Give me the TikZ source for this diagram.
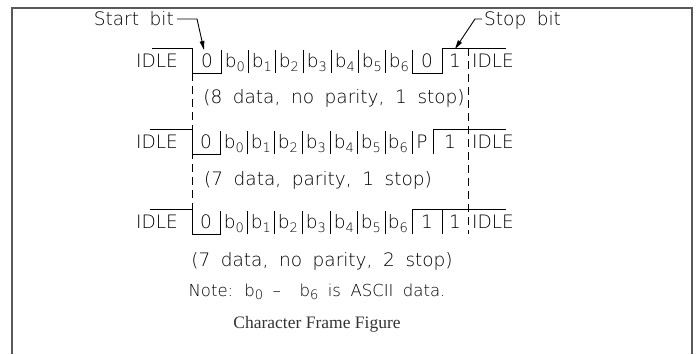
\documentclass[tikz,border=0pt]{standalone}
\usepackage{fontspec}
\setmainfont{DejaVu Sans ExtraLight}[WordSpace=1.8]
\newfontfamily\capfont{Liberation Serif}
\usetikzlibrary{arrows.meta,positioning}
\newcommand{\bsub}[1]{b\raisebox{-0.22em}{\fontsize{13}{13}\selectfont #1}}

\begin{document}
\begin{tikzpicture}[x=1pt, y=-1pt,
		lbl/.style={inner sep=0pt, anchor=base, font=\fontsize{18.5}{18.5}\selectfont},
		note/.style={inner sep=0pt, anchor=base, font=\fontsize{16.5}{16.5}\selectfont},
		wave/.style={line width=0.9pt, line join=miter},
		guide/.style={line width=0.8pt, dash pattern=on 8pt off 5pt},
		pointer/.style={line width=0.9pt, -{Triangle[length=9pt,width=4.5pt]}}
		]
	\useasboundingbox (0,0) rectangle (697,354);
	\draw[line width=1.6pt, black!65] (12,354) -- (12,8) -- (692,8) -- (692,354);

	% --- labels with arrows ---
	\node[lbl, anchor=base east] (start) at (174,25) {Start bit};
	\node[lbl, anchor=base west] (stop) at (484,25) {Stop bit};
	\coordinate (startBend) at (197,19);
	\coordinate (startTip) at (204,50);
	\coordinate (stopBend) at (475,19);
	\coordinate (stopTip) at (455,49);
	\draw[pointer] ([xshift=3pt]start.east |- startBend) -- (startBend) -- (startTip);
	\draw[pointer] ([xshift=-2pt]stop.west |- stopBend) -- (stopBend) -- (stopTip);

	% --- first frame: 8 data, no parity, 1 stop ---
	\draw[wave] (152,48) -- (192,48) -- (192,73) -- (221,73) -- (221,50);
	\draw[wave] (412,50) -- (412,73) -- (442,73) -- (442,48) -- (506,48);
	\foreach \x in {248,275,303,331,358,385}
		\draw[wave] (\x,50) -- (\x,73);
	\node[lbl] (idleA) at (157,67) {IDLE};
	\node[lbl] (startA) at (207,67) {0};
	\foreach \i/\x in {0/235,1/262,2/289,3/317,4/345,5/372,6/399}
		\node[lbl] (bA\i) at (\x,67) {\bsub{\i}};
	\node[lbl] (zeroA) at (427,67) {0};
	\node[lbl] (stopA) at (455,67) {1};
	\node[lbl] (idleA2) at (493,67) {IDLE};
	\node[lbl] (capA) at (334,103) {(8 data, no parity, 1 stop)};

	% --- second frame: 7 data, parity, 1 stop ---
	\draw[wave] (150,129) -- (192,129) -- (192,154) -- (220,154) -- (220,131);
	\draw[wave] (433,154) -- (433,129) -- (506,129);
	\foreach \x in {247,274,302,330,357,385,412}
		\draw[wave] (\x,131) -- (\x,154);
	\node[lbl] (idleB) at (157,148) {IDLE};
	\node[lbl] (startB) at (206,148) {0};
	\foreach \i/\x in {0/234,1/261,2/288,3/316,4/344,5/371,6/398}
		\node[lbl] (bB\i) at (\x,148) {\bsub{\i}};
	\node[lbl] (parB) at (422,148) {P};
	\node[lbl] (stopB) at (450,148) {1};
	\node[lbl] (idleB2) at (493,148) {IDLE};
	\node[lbl] (capB) at (318,185) {(7 data, parity, 1 stop)};

	% --- third frame: 7 data, no parity, 2 stop ---
	\draw[wave] (150,209) -- (192,209) -- (192,234) -- (220,234) -- (220,211);
	\draw[wave] (412,234) -- (412,209) -- (506,209);
	\draw[wave] (442,209) -- (442,234);
	\foreach \x in {247,274,302,330,357,385}
		\draw[wave] (\x,211) -- (\x,234);
	\node[lbl] (idleC) at (157,228) {IDLE};
	\node[lbl] (startC) at (206,228) {0};
	\foreach \i/\x in {0/234,1/261,2/288,3/316,4/344,5/371,6/398}
		\node[lbl] (bC\i) at (\x,228) {\bsub{\i}};
	\node[lbl] (stopC) at (427,228) {1};
	\node[lbl] (stopC2) at (455,228) {1};
	\node[lbl] (idleC2) at (493,228) {IDLE};
	\node[lbl] (capC) at (322,266) {(7 data, no parity, 2 stop)};

	% --- guides ---
	\draw[guide] (192,73) -- (192,209);
	\draw[guide] (468,48) -- (468,234);

	\node[note] (noteTxt) at (317,296) {Note: \bsub{0} -- \ \bsub{6} is ASCII data.};
	\node[inner sep=0pt, anchor=base, text=black!80, font=\capfont\fontsize{17.5}{17.5}\selectfont] (title) at (317,328) {Character Frame Figure};
\end{tikzpicture}
\end{document}
